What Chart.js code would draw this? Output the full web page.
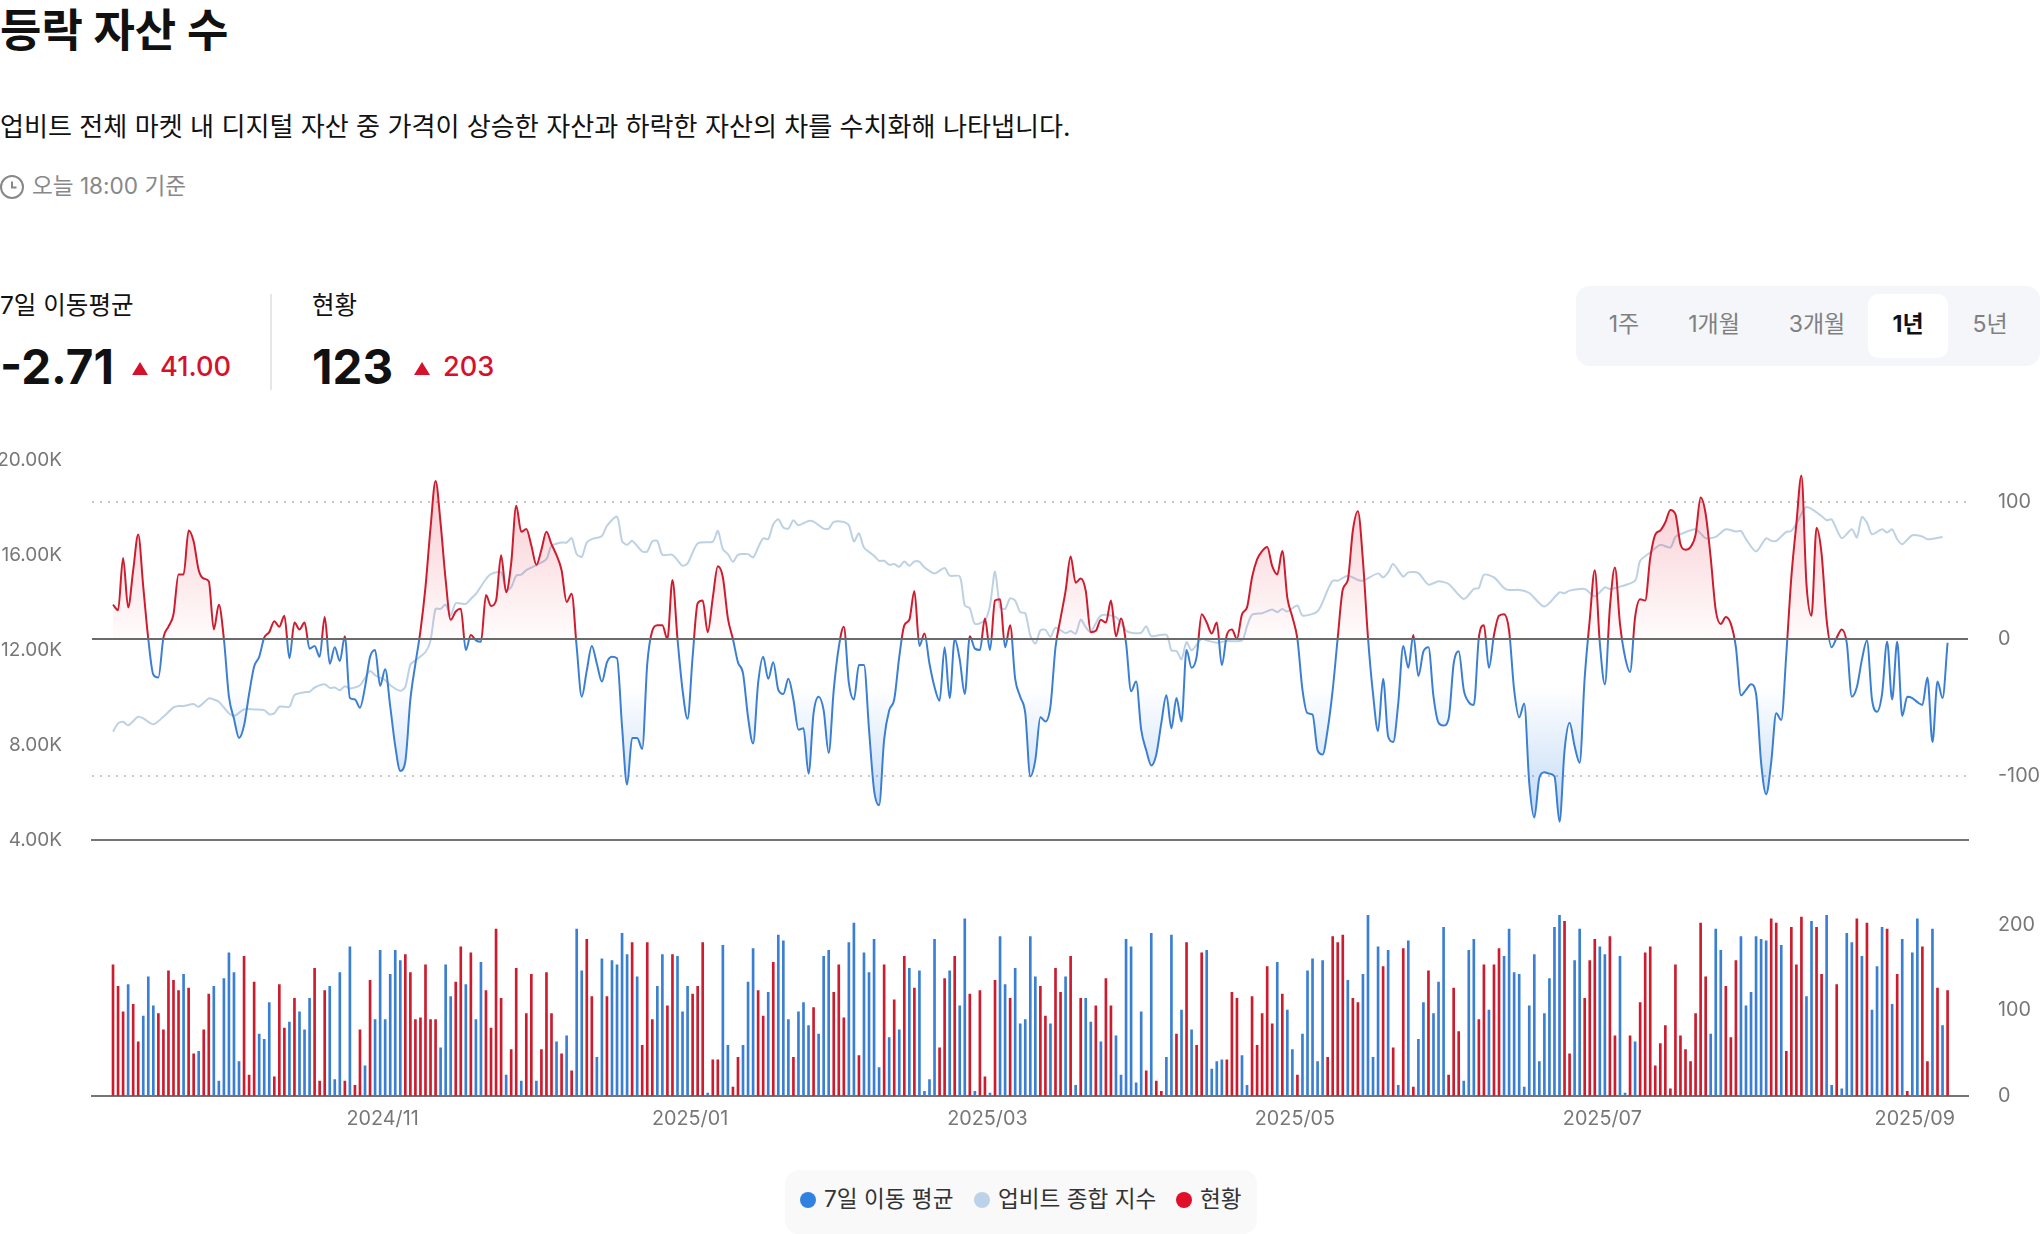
<!DOCTYPE html>
<html lang="ko">
<head>
<meta charset="utf-8">
<title>등락 자산 수</title>
<script src="https://cdn.jsdelivr.net/npm/chart.js@4"></script>
<style>
  html, body { margin: 0; padding: 0; background: #fff; }
  body { position: relative; width: 2040px; height: 1234px; overflow: hidden;
         font-family: Inter, "Noto Sans CJK KR", sans-serif; color: #111; }
  .abs { position: absolute; white-space: nowrap; }
  canvas { position: absolute; left: 0; }
  #title { left: 0; top: 1px; font-size: 45px; line-height: 60px; font-weight: 700; }
  #desc { left: 0; top: 109px; font-size: 26.1px; line-height: 36px; }
  #asof { left: 32px; top: 169px; font-size: 22.6px; line-height: 34px; color: #888; }
  #clock { position: absolute; left: 0; top: 175px; }
  .statLabel { top: 287px; font-size: 24.5px; line-height: 36px; }
  .statValue { top: 337px; font-size: 47.5px; line-height: 60px; font-weight: 700; }
  .statDelta { top: 347px; font-size: 27.2px; line-height: 40px; font-weight: 500; color: #d6112c; }
  .tri { position: absolute; top: 362px; width: 0; height: 0; border-left: 8px solid transparent;
         border-right: 8px solid transparent; border-bottom: 13px solid #d6112c; }
  #divider { position: absolute; left: 270px; top: 294px; width: 2px; height: 96px; background: #e6e6e6; }
  #range { position: absolute; left: 1576px; top: 286px; width: 464px; height: 80px; background: #f4f6fa; border-radius: 14px; }
  #rangeOn { position: absolute; left: 1868px; top: 294px; width: 80px; height: 64px; background: #fff; border-radius: 10px; }
  .rangeBtn { top: 307px; font-size: 23px; line-height: 34px; color: #808080; transform: translateX(-50%); }
  #legendBox { position: absolute; left: 785px; top: 1170px; width: 472px; height: 64px; background: #f9f9f9; border-radius: 14px; }
  .dot { position: absolute; top: 1192px; width: 16px; height: 16px; border-radius: 50%; }
  .legendText { top: 1182px; font-size: 22.6px; line-height: 34px; color: #333; }
</style>
</head>
<body>
<div class="abs" id="title">등락 자산 수</div>
<div class="abs" id="desc">업비트 전체 마켓 내 디지털 자산 중 가격이 상승한 자산과 하락한 자산의 차를 수치화해 나타냅니다.</div>
<svg id="clock" width="24" height="24" viewBox="0 0 24 24" fill="none" stroke="#888" stroke-width="2">
  <circle cx="12" cy="12" r="11"/><path d="M12 6.5V12.5H16.5"/>
</svg>
<div class="abs" id="asof">오늘 18:00 기준</div>

<div class="abs statLabel" style="left:0">7일 이동평균</div>
<div class="abs statValue" style="left:0">-2.71</div>
<div class="tri" style="left:132px"></div>
<div class="abs statDelta" style="left:160px">41.00</div>
<div id="divider"></div>
<div class="abs statLabel" style="left:312px">현황</div>
<div class="abs statValue" style="left:312px">123</div>
<div class="tri" style="left:414px"></div>
<div class="abs statDelta" style="left:443px">203</div>

<div id="range"></div>
<div id="rangeOn"></div>
<div class="abs rangeBtn" style="left:1624px">1주</div>
<div class="abs rangeBtn" style="left:1714px">1개월</div>
<div class="abs rangeBtn" style="left:1817px">3개월</div>
<div class="abs rangeBtn" style="left:1908px;color:#111;font-weight:700">1년</div>
<div class="abs rangeBtn" style="left:1990px">5년</div>

<canvas id="trendChart" style="top:418px"></canvas>
<canvas id="dailyChart" style="top:870px"></canvas>

<div id="legendBox"></div>
<div class="dot" style="left:800px;background:#3182e0"></div>
<div class="abs legendText" style="left:824px">7일 이동 평균</div>
<div class="dot" style="left:974px;background:#bcd2e8"></div>
<div class="abs legendText" style="left:998px">업비트 종합 지수</div>
<div class="dot" style="left:1176px;background:#e0102a"></div>
<div class="abs legendText" style="left:1200px">현황</div>

<script>
// Day index 0 is 2024-09-09, one value per day
const movingAvg = [
  25,21,59,23,50,76,38,0,-26,-28,
  1,9,18,47,47,79,71,50,44,42,
  7,25,0,-42,-58,-72,-63,-40,-20,-13,
  1,5,13,9,17,-14,12,7,12,-7,
  -5,-13,16,-18,-6,-16,2,-43,-44,-50,
  -35,-13,-8,-34,-22,-49,-78,-96,-89,-44,
  -18,6,38,81,115,84,43,14,20,22,
  -8,3,-1,-2,32,24,28,61,34,55,
  97,78,80,68,54,65,78,69,61,50,
  27,33,-6,-42,-23,-5,-18,-31,-17,-13,
  -14,-64,-106,-72,-72,-80,-18,6,10,10,
  0,43,0,-37,-58,-13,26,28,5,30,
  53,45,15,0,-17,-25,-57,-76,-32,-13,
  -29,-17,-37,-40,-29,-44,-66,-65,-98,-54,
  -42,-52,-83,-37,-6,9,-32,-44,-19,-19,
  -66,-110,-121,-73,-52,-44,-13,10,14,35,
  -5,4,-18,-35,-45,-6,-43,0,-15,-40,
  2,-7,-8,15,-8,28,29,-6,10,-29,
  -42,-54,-100,-88,-57,-60,-49,-6,15,35,
  60,41,44,35,5,6,14,12,28,2,
  15,-3,-38,-31,-66,-81,-92,-84,-61,-41,
  -65,-43,-60,-8,-21,-13,18,12,4,12,
  -19,3,7,0,18,23,45,58,64,67,
  53,47,64,30,16,0,-37,-54,-55,-81,
  -84,-66,-37,1,36,43,79,93,57,1,
  -40,-67,-29,-71,-75,-47,-5,-21,3,-27,
  -9,-6,-42,-61,-63,-58,-18,-9,-37,-46,
  -48,1,10,-21,3,17,18,6,-37,-57,
  -47,-105,-130,-101,-97,-98,-100,-133,-81,-61,
  -78,-90,-28,14,50,-3,-33,23,52,11,
  -13,-24,16,29,28,59,76,79,85,94,
  91,69,65,67,76,103,91,59,21,11,
  16,11,-6,-41,-37,-33,-40,-90,-113,-90,
  -54,-59,-11,45,84,119,40,17,81,62,
  14,-6,1,7,-3,-42,-35,-15,-1,-44,
  -53,-40,-2,-44,-2,-56,-42,-43,-46,-48,
  -28,-75,-31,-43,-2.71
];

// Upbit composite index, read at the turning points
const indexDays = [
  0,1,2,3,5,6,8,10,12,13,14,16,17,19,20,21,23,24,26,28,30,31,32,33,35,36,38,39,40,42,43,44,45,46,47,49,51,52,54,55,57,58,59,60,
  62,63,64,65,66,67,68,70,71,72,74,75,77,78,79,80,81,82,84,86,87,89,90,91,92,93,94,95,97,98,100,101,102,103,105,106,107,108,109,111,113,114,116,
  119,120,121,122,123,124,126,127,128,129,130,131,132,133,134,135,136,138,139,141,142,143,145,146,147,148,149,151,152,153,154,155,156,157,158,159,160,161,163,165,166,168,169,170,171,173,174,175,176,177,178,179,180,181,182,183,184,185,186,187,189,190,191,192,193,194,196,199,201,202,204,205,206,209,210,211,212,213,214,216,217,219,221,224,225,226,228,230,231,232,233,235,236,239,241,242,243,245,247,248,251,
  252,253,254,256,257,259,261,263,265,268,270,271,272,274,276,277,279,281,284,287,288,289,292,294,296,297,299,302,303,305,307,309,310,311,314,316,318,320,322,323,324,326,328,329,330,332,333,334,336,339,340,341,343,345,346,347,348,349,351,352,353,354,355,357,359,360,363,364
];
const indexValues = [
  8565,8914,8984,8830,9193,9123,8872,9193,9584,9640,9640,9724,9612,9961,9919,9821,9333,9221,9500,9500,9472,9291,9333,9612,9612,10101,10226,10240,10422,10561,10408,10422,10310,10477,10380,10519,11120,10938,10729,10519,10282,10450,11385,11566,
  11915,12404,13730,13730,13912,13451,13967,13940,14149,14358,14987,15196,15266,14498,14638,15126,15168,15363,15573,15824,16383,16522,16522,16704,16034,15922,16522,16662,16801,17220,17611,16592,16424,16592,16145,16145,16564,16592,16006,16006,15545,15643,16480,
  16564,17011,16243,16034,15712,16006,16034,15894,16313,16704,16662,17290,17499,17150,17108,17457,17248,17430,17402,17108,17108,17388,17388,17248,16564,16913,16313,15964,15754,15754,15587,15615,15503,15726,15545,15726,15712,15475,15224,15447,15126,15098,13870,13758,13102,13242,13870,15308,13800,13730,14177,14079,13591,13549,12613,12264,12823,12851,12544,12934,12711,12795,12683,13283,12962,12753,13451,13381,12823,12725,12725,13004,12585,12641,11985,11957,11608,12334,11985,12474,12404,12306,12376,12404,13004,13479,13549,13702,13591,13730,13618,13870,13451,13632,14526,14917,14917,15126,14945,14917,
  15224,15056,15266,15615,15084,15266,15238,14749,14889,14777,14149,14568,14610,15168,15056,14610,14526,14526,14400,13828,14428,14386,14498,14568,14261,14638,14568,14665,14917,15754,16103,16424,16313,16759,16871,17081,16704,16759,17081,16983,17011,16662,16145,16704,16592,16592,16969,17011,17318,18016,17639,17457,17499,16704,17081,16732,17597,17360,16871,17081,16941,17081,16662,16453,16829,16773,16662,16759
];

// Bar value is the day's reading, sign picks the colour (plus red, minus blue)
const dailyValues = [
  153,128,98,-130,107,63,-93,-139,-105,96,
  77,146,135,123,-142,126,49,-52,77,119,
  -128,-17,-137,-167,-144,-40,163,24,133,-72,
  -66,-109,22,130,79,-86,114,-98,-77,-114,
  149,17,123,-128,-19,-144,17,-174,12,77,
  -35,135,-89,-170,-89,-142,-170,-158,165,144,
  89,91,153,89,89,-56,-153,-116,133,174,
  -130,167,-89,-156,123,79,195,114,-24,54,
  149,-17,96,142,-17,54,144,96,-63,49,
  -70,29,-195,-146,183,116,-45,-160,116,-158,
  -153,-190,-165,179,-139,59,179,89,-128,-165,
  105,165,-163,-98,-128,119,128,179,-3,42,
  42,-176,-59,10,45,
  -59,-133,-172,123,93,-121,156,-188,-181,-89,
  45,-98,-109,-82,103,-72,-163,-170,121,153,
  91,-179,-202,47,-167,-144,-183,-33,153,-68,
  112,-77,163,-149,126,-146,-5,-19,-183,56,
  137,-146,163,-105,-207,119,-5,123,22,-3,
  135,-186,-130,114,-149,-84,-89,-186,-139,128,
  93,-84,149,121,-139,163,-12,114,-114,-86,
  105,-63,137,105,-70,-24,-183,-174,-15,-98,
  29,-190,17,5,-45,-188,72,-100,179,-77,
  59,167,-170,-31,-40,-42,42,121,114,-47,
  -12,116,59,96,151,84,-156,119,-100,-54,
  24,-72,-146,-160,-40,-158,45,186,179,188,
  -135,114,109,-142,-211,-45,-174,
  151,-170,56,-12,172,-181,10,-66,-109,146,
  -96,-133,-197,24,126,75,-17,-170,-183,89,
  153,-100,153,172,-163,-195,-144,-142,-10,-105,
  -165,-40,-96,-137,-197,-211,204,49,-158,-195,
  114,158,183,-174,-165,186,70,-163,-3,70,
  -63,109,167,174,35,61,82,8,153,70,
  54,40,96,202,139,-72,-195,-170,128,68,
  158,-186,-105,-121,-186,-183,-181,207,202,-176,
  52,197,153,209,-116,-204,197,142,-211,-12,
  130,-8,-190,-179,207,-163,202,-100,-151,-197,
  195,-107,142,-183,5,-167,-207,174,40,-195,
  126,-82,123
];

const xMin = -4.17;
const xMax = 368.05;
const tickDays = [53.5, 114.5, 173.5, 234.5, 295.5, 357.5];
const tickLabels = ['2024/11', '2025/01', '2025/03', '2025/05', '2025/07', '2025/09'];
const leftTicks = [4000, 8000, 12000, 16000, 20000];
const rightTicks = [-100, 0, 100];
const volumeTicks = [0, 100, 200];

const RED = '#cc1c2e';
const BLUE = '#3b7fd2';
const INDEX_COLOR = '#bdd1e5';
const AXIS_LINE = '#757575';
const LABEL_COLOR = '#777';
const TICK_FONT = { family: 'Inter', size: 19.8 };
const LEFT_FONT = { family: 'Inter', size: 19 };

const setWidth = w => scale => { scale.width = w; };
const setTicks = values => scale => { scale.ticks = values.map(v => ({ value: v })); };

Chart.defaults.animation = false;
Chart.defaults.plugins.legend.display = false;
Chart.defaults.plugins.tooltip.enabled = false;

// 1. Moving average and composite index
const trendCanvas = document.getElementById('trendChart');
trendCanvas.width = 2040;
trendCanvas.height = 464;
const trendChart = new Chart(trendCanvas, {
    type: 'line',
    data: {
        datasets: [
            {
                label: 'zero',
                data: [{ x: xMin, y: 0 }, { x: xMax, y: 0 }],
                yAxisID: 'yRight',
                borderColor: '#6a6a6a',
                borderWidth: 2,
                pointRadius: 0,
                order: 1
            },
            {
                label: '7일 이동 평균',
                data: movingAvg.map((v, i) => ({ x: i, y: v })),
                yAxisID: 'yRight',
                borderWidth: 2,
                pointRadius: 0,
                cubicInterpolationMode: 'monotone',
                order: 2
            },
            {
                label: '업비트 종합 지수',
                data: indexDays.map((d, i) => ({ x: d, y: indexValues[i] })),
                yAxisID: 'yLeft',
                borderColor: INDEX_COLOR,
                borderWidth: 2,
                pointRadius: 0,
                tension: 0.25,
                order: 3
            }
        ]
    },
    options: {
        responsive: false,
        layout: { padding: { top: 20.7, bottom: 21.3 } },
        scales: {
            x: {
                type: 'linear',
                min: xMin,
                max: xMax,
                grid: { display: false, drawTicks: false },
                border: { color: AXIS_LINE, width: 2 },
                ticks: { display: false },
                afterFit: scale => { scale.height = 0; }
            },
            yLeft: {
                position: 'left',
                min: 4000,
                max: 20000,
                afterBuildTicks: setTicks(leftTicks),
                afterFit: setWidth(92),
                grid: { display: false, drawTicks: false },
                border: { display: false },
                ticks: {
                    padding: 30,
                    color: LABEL_COLOR,
                    font: LEFT_FONT,
                    callback: v => (v / 1000).toFixed(2) + 'K'
                }
            },
            yRight: {
                position: 'right',
                min: -146.4,
                max: 130.4,
                afterBuildTicks: setTicks(rightTicks),
                afterFit: setWidth(72),
                grid: { color: '#c8c8c8', lineWidth: 2, drawTicks: false },
                border: { display: false, dash: [2, 6] },
                ticks: { padding: 30, color: LABEL_COLOR, font: TICK_FONT }
            }
        }
    }
});

// Colours split at the zero line, so they need the scale's pixels
const ctx = trendChart.ctx;
const area = trendChart.chartArea;
const yRight = trendChart.scales.yRight;
const zeroY = yRight.getPixelForValue(0);
const lineGradient = ctx.createLinearGradient(0, area.top, 0, area.bottom);
const zeroStop = (zeroY - area.top) / (area.bottom - area.top);
lineGradient.addColorStop(zeroStop, RED);
lineGradient.addColorStop(zeroStop, BLUE);
const aboveGradient = ctx.createLinearGradient(0, area.top, 0, zeroY);
aboveGradient.addColorStop(0, 'rgba(224, 16, 42, 0.25)');
aboveGradient.addColorStop(1, 'rgba(224, 16, 42, 0.01)');
// The blue wash only starts well below zero
const belowGradient = ctx.createLinearGradient(0, yRight.getPixelForValue(-35), 0, yRight.getPixelForValue(-130));
belowGradient.addColorStop(0, 'rgba(49, 130, 224, 0)');
belowGradient.addColorStop(1, 'rgba(49, 130, 224, 0.3)');
const avgDataset = trendChart.data.datasets[1];
avgDataset.borderColor = lineGradient;
avgDataset.fill = { target: { value: 0 }, above: aboveGradient, below: belowGradient };
trendChart.update('none');

// 2. Daily bars
const dailyCanvas = document.getElementById('dailyChart');
dailyCanvas.width = 2040;
dailyCanvas.height = 269;
new Chart(dailyCanvas, {
    type: 'bar',
    data: {
        datasets: [{
            label: '현황',
            data: dailyValues.map((v, i) => ({ x: i, y: Math.abs(v) })),
            backgroundColor: dailyValues.map(v => (v > 0 ? RED : BLUE)),
            barThickness: 2,
            yAxisID: 'yVolume'
        }]
    },
    options: {
        responsive: false,
        layout: { padding: { top: 20.7, left: 92, bottom: 0 } },
        scales: {
            x: {
                type: 'linear',
                min: xMin,
                max: xMax,
                offset: false,
                afterBuildTicks: setTicks(tickDays),
                afterFit: scale => { scale.height = 43.3; },
                grid: { display: false, drawTicks: false },
                border: { color: AXIS_LINE, width: 2 },
                ticks: {
                    autoSkip: false,
                    maxRotation: 0,
                    padding: 11,
                    color: LABEL_COLOR,
                    font: TICK_FONT,
                    callback: v => tickLabels[tickDays.indexOf(v)]
                }
            },
            yVolume: {
                position: 'right',
                min: 0,
                max: 215,
                afterBuildTicks: setTicks(volumeTicks),
                afterFit: setWidth(72),
                grid: { display: false, drawTicks: false },
                border: { display: false },
                ticks: { padding: 30, color: LABEL_COLOR, font: TICK_FONT }
            }
        }
    }
});
</script>
</body>
</html>
